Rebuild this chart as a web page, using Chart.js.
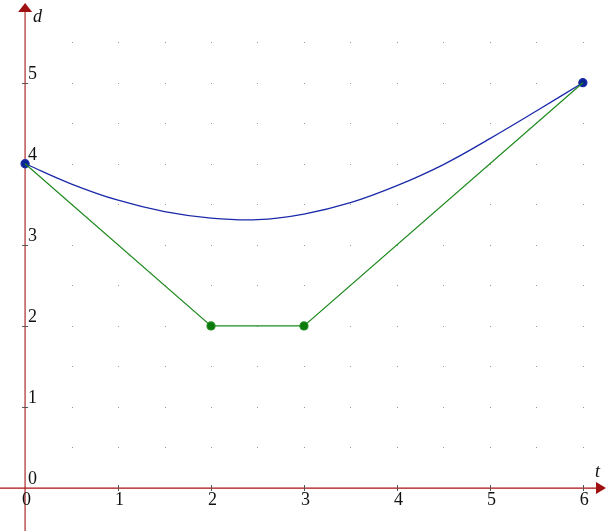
<!DOCTYPE html>
<html>
<head>
<meta charset="utf-8">
<script src="https://cdn.jsdelivr.net/npm/chart.js@4"></script>
<style>
  html, body { margin: 0; padding: 0; background: #fff; }
  #wrap { width: 607px; height: 531px; }
</style>
</head>
<body>
<div id="wrap"><canvas id="myChart" width="607" height="531"></canvas></div>
<script>
// values
const curveT = [0, 0.5, 1, 1.5, 2, 2.5, 3, 3.5, 4, 4.5, 5, 5.5, 6]
const curveD = [4, 3.75, 3.55, 3.41, 3.33, 3.31, 3.38, 3.52, 3.73, 3.99, 4.31, 4.65, 5]
const pathT = [0, 2, 3, 6]
const pathD = [4, 2, 2, 5]
const xTicks = [0, 1, 2, 3, 4, 5, 6]
const yTicks = [0, 1, 2, 3, 4, 5]

const xMin = -0.27, xMax = 6.26, yMin = -0.53, yMax = 6.02

const curvePts = curveT.map((t, i) => ({ x: t, y: curveD[i] }))
const pathPts = pathT.map((t, i) => ({ x: t, y: pathD[i] }))

const axesPlugin = {
    id: 'axesPlugin',
    beforeDatasetsDraw(chart) {
        const c = chart.ctx
        const xs = chart.scales.x, ys = chart.scales.y
        const x0 = xs.getPixelForValue(0), y0 = ys.getPixelForValue(0)
        // dotted grid
        c.save()
        c.fillStyle = '#9a9a9a'
        for (let gx = 0.5; gx <= 6; gx += 0.5) {
            for (let gy = 0.5; gy <= 5.5; gy += 0.5) {
                const px = Math.round(xs.getPixelForValue(gx)), py = Math.round(ys.getPixelForValue(gy))
                c.fillRect(px, py, 1, 1)
            }
        }
        // y axis
        c.strokeStyle = '#c06060'
        c.lineWidth = 1.6
        c.beginPath()
        c.moveTo(x0, chart.height)
        c.lineTo(x0, 10)
        c.stroke()
        c.fillStyle = '#a01010'
        c.beginPath()
        c.moveTo(x0, 3)
        c.lineTo(x0 - 7, 12)
        c.lineTo(x0 + 7, 12)
        c.closePath()
        c.fill()
        // x axis
        c.strokeStyle = '#a81010'
        c.lineWidth = 1.2
        c.beginPath()
        c.moveTo(0, y0)
        c.lineTo(chart.width - 8, y0)
        c.stroke()
        c.fillStyle = '#a01010'
        c.beginPath()
        c.moveTo(chart.width - 1, y0)
        c.lineTo(chart.width - 11, y0 - 6)
        c.lineTo(chart.width - 11, y0 + 6)
        c.closePath()
        c.fill()
        // ticks
        c.strokeStyle = '#555'
        c.lineWidth = 1
        xTicks.forEach(v => {
            if (v === 0) return
            const px = Math.round(xs.getPixelForValue(v)) + 0.5
            c.beginPath(); c.moveTo(px, y0 - 3); c.lineTo(px, y0 + 3); c.stroke()
        })
        yTicks.forEach(v => {
            if (v === 0) return
            const py = Math.round(ys.getPixelForValue(v)) + 0.5
            c.beginPath(); c.moveTo(x0 - 3, py); c.lineTo(x0 + 3, py); c.stroke()
        })
        // labels
        c.fillStyle = '#111'
        c.font = '18px "Liberation Serif", serif'
        c.textBaseline = 'top'
        c.textAlign = 'left'
        xTicks.forEach(v => {
            const px = xs.getPixelForValue(v)
            c.fillText(String(v), px - 3, y0 + 3)
        })
        c.textBaseline = 'alphabetic'
        yTicks.forEach(v => {
            const py = ys.getPixelForValue(v)
            c.fillText(String(v), x0 + 3, py - 4)
        })
        c.font = 'italic 18px "Liberation Serif", serif'
        c.fillText('d', x0 + 8, 22)
        c.fillText('t', chart.width - 12, y0 - 11)
        c.restore()
    }
}

const ctx = document.getElementById('myChart').getContext('2d')
const myChart = new Chart(ctx, {
    type: 'scatter',
    data: {
        datasets: [{
            data: pathPts,
            showLine: true,
            borderColor: '#1e8a1e',
            backgroundColor: '#0a7a0a',
            borderWidth: 1.2,
            pointRadius: [0, 4, 4, 0],
            pointHoverRadius: 0,
            tension: 0
        }, {
            data: curvePts,
            showLine: true,
            borderColor: '#1a2aa8',
            backgroundColor: '#0a2590',
            borderWidth: 1.3,
            pointRadius: curvePts.map((p, i) => (i === 0 || i === curvePts.length - 1) ? 4 : 0),
            pointHoverRadius: 0,
            tension: 0.4
        }]
    },
    plugins: [axesPlugin],
    options: {
        responsive: false,
        animation: false,
        layout: { padding: 0, autoPadding: false },
        plugins: {
            legend: { display: false },
            tooltip: { enabled: false }
        },
        scales: {
            x: { type: 'linear', min: xMin, max: xMax, display: false },
            y: { type: 'linear', min: yMin, max: yMax, display: false }
        }
    }
})
</script>
</body>
</html>
